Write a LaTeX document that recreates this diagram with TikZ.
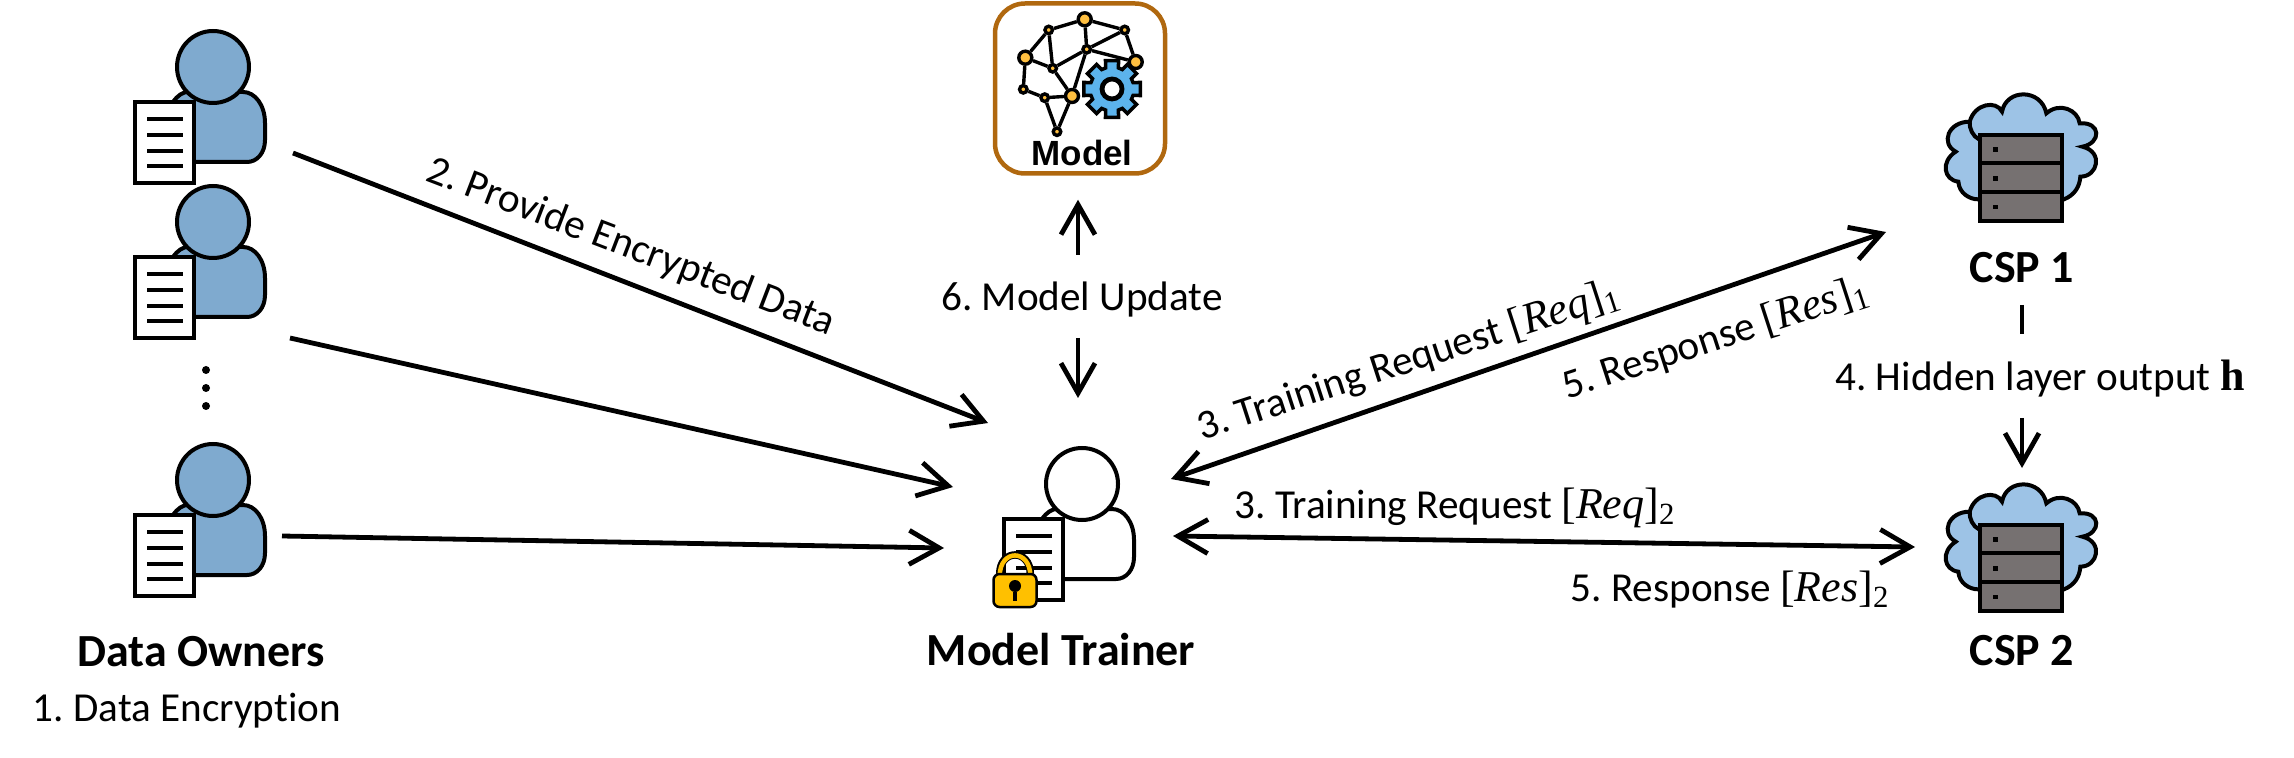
\documentclass[tikz,border=0pt]{standalone}
\usepackage[no-math]{fontspec}
\setmainfont[RawFeature={-liga}]{Carlito}
\newfontfamily\arialfont{Liberation Sans}
\newfontfamily\serifmath{Liberation Serif}
\usetikzlibrary{arrows.meta,calc,positioning}
\definecolor{ownerblue}{HTML}{7FAACF}
\definecolor{cloudblue}{HTML}{9DC3E6}
\definecolor{servergray}{HTML}{767171}
\definecolor{lockyellow}{HTML}{FFC000}
\definecolor{modelbrown}{HTML}{B0680F}
\definecolor{brainyellow}{HTML}{FFBF40}
\definecolor{gearblue}{HTML}{5CB3EC}
\newcommand{\bracketed}[2]{{\fontsize{22}{24}\selectfont\serifmath[\textit{#1}]\textsubscript{#2}}}
\frenchspacing

\tikzset{
  pics/person/.style={code={
    \draw[iconline,fill=#1] (-40,35) .. controls (-35,28) and (-30,25) .. (-25,25) -- (30,25)
      .. controls (42,25) and (52,38) .. (52,56) -- (52,73)
      .. controls (52,86) and (44,95) .. (34,95) -- (-30,95) -- cycle;
    \draw[iconline,fill=#1] (0,0) circle [radius=36];
    \draw[iconline,fill=white] (-78,35) rectangle (-19,116);
    \foreach \y in {52,68,84,99}
      \draw[docline] (-66,\y) -- (-30,\y);
  }},
  pics/server/.style={code={
    \begin{scope}[scale=0.3333,shift={(-304,-294)}]
      \draw[iconline,fill=cloudblue] (175,358) .. controls (150,358) and (118,340) .. (116,305)
        .. controls (72,300) and (62,245) .. (108,215)
        .. controls (62,190) and (85,125) .. (150,125)
        .. controls (165,70) and (230,60) .. (247,95)
        .. controls (260,25) and (365,25) .. (380,100)
        .. controls (420,65) and (475,90) .. (480,130)
        .. controls (545,125) and (545,190) .. (488,200)
        .. controls (552,215) and (535,290) .. (482,290)
        .. controls (480,320) and (465,345) .. (433,358) -- cycle;
      \draw[iconline] (150,125) .. controls (148,145) and (160,170) .. (178,178);
      \draw[iconline,fill=servergray] (181,166) rectangle (427,250);
      \draw[iconline,fill=servergray] (181,250) rectangle (427,337);
      \draw[iconline,fill=servergray] (181,337) rectangle (427,422);
      \foreach \y in {208,295,381}
        \fill (220,\y-7) rectangle (234,\y+7);
    \end{scope}
  }}
}

\begin{document}
\begin{tikzpicture}[x=0.5pt,y=-0.5pt,
    iconline/.style = {line width=2pt},
    docline/.style = {line width=2.2pt},
    iconbox/.style = {inner sep=0pt,minimum size=1pt},
    label/.style = {anchor=base,font=\fontsize{20.6}{22}\selectfont},
    title/.style = {anchor=base,font=\fontsize{23}{25}\selectfont\bfseries},
    arrow/.style = {line width=2.4pt,>={Straight Barb[length=15pt,width=17pt]}},
    dotnode/.style = {circle,fill=black,inner sep=0pt,minimum size=4pt},
    modelbox/.style = {draw=modelbrown,line width=2.25pt,fill=white,rounded corners=15pt,
      minimum width=85pt,minimum height=85pt,inner sep=0pt},
    bigdot/.style = {circle,draw,fill=brainyellow,line width=1.7pt,inner sep=0pt,minimum size=6.5pt},
    smalldot/.style = {circle,draw,fill=brainyellow,line width=1.7pt,inner sep=0pt,minimum size=3.75pt},
    brainedge/.style = {line width=1.7pt},
    gearhub/.style = {circle,draw,fill=white,line width=2.4pt,inner sep=0pt,minimum size=10pt},
    lockbody/.style = {draw,fill=lockyellow,line width=1.25pt,rounded corners=3pt,inner sep=0pt,
      minimum width=21.5pt,minimum height=16.5pt}
  ]
  \useasboundingbox (0,0) rectangle (2294,758);

  % owners
  \node [iconbox] (owner1) at (213,67) {};
  \node [iconbox,below of=owner1,node distance=77.5pt] (owner2) {};
  \node [iconbox,below of=owner1,node distance=206.5pt] (owner3) {};
  \pic at (owner1) {person=ownerblue};
  \pic at (owner2) {person=ownerblue};
  \pic at (owner3) {person=ownerblue};
  \node [dotnode] (dot1) at (206,370) {};
  \node [dotnode,below of=dot1,node distance=9pt] (dot2) {};
  \node [dotnode,below of=dot2,node distance=9pt] (dot3) {};
  \node [title] (ownername) at (201,666) {Data Owners};
  \node [label] (encrypt) at (187,721.5) {1. Data Encryption};

  % trainer
  \node [iconbox] (trainer) at (1082,484) {};
  \pic at (trainer) {person=white};
  \draw [line width=3.75pt] ($(trainer)+(-82.3,90)$) .. controls ($(trainer)+(-82.3,64.6)$) and ($(trainer)+(-51.7,64.6)$) .. ($(trainer)+(-51.7,90)$);
  \draw [line width=2.25pt,lockyellow] ($(trainer)+(-82.3,92)$) .. controls ($(trainer)+(-82.3,64.6)$) and ($(trainer)+(-51.7,64.6)$) .. ($(trainer)+(-51.7,92)$);
  \node [lockbody] (lock) at ($(trainer)+(-67,106.5)$) {};
  \node [dotnode,minimum size=6pt] (keyhole) at ($(trainer)+(-67,102)$) {};
  \draw [line width=2.25pt] (keyhole) -- ($(trainer)+(-67,117)$);
  \node [title] (trainername) at (1061,665) {Model Trainer};

  % model
  \node [modelbox] (model) at (1080,88.5) {};
  \node [smalldot] (m2) at (1048.7,30) {};
  \node [bigdot] (m1) at (1084.7,19.3) {};
  \node [smalldot] (m3) at (1124.7,30) {};
  \node [bigdot] (m4) at (1025.3,57.7) {};
  \node [smalldot] (m5) at (1086.7,49.3) {};
  \node [bigdot] (m6) at (1135.7,62) {};
  \node [smalldot] (m7) at (1052.7,68.3) {};
  \node [smalldot] (m8) at (1023.3,89.3) {};
  \node [smalldot] (m9) at (1044.7,97.7) {};
  \node [bigdot] (m10) at (1072,96) {};
  \node [smalldot] (m11) at (1057,131.7) {};
  \foreach \a/\b in {m4/m2,m2/m1,m1/m3,m3/m6,m1/m5,m3/m5,m5/m6,m2/m7,m4/m7,m7/m5,m7/m10,m5/m10,m4/m8,m8/m9,m9/m10,m9/m11,m10/m11}
    \draw [brainedge] (\a) -- (\b);
  \coordinate (gearc) at (1112,89);
  \draw [line width=1.75pt,fill=gearblue,shift={(gearc)}] (-17:22)
    \foreach \t in {0,45,...,315} { -- (\t-17:22) -- (\t-13:29) -- (\t+13:29) -- (\t+17:22) } -- cycle;
  \node [gearhub] (gear) at (gearc) {};
  \node [anchor=base,font=\fontsize{17.5}{19}\selectfont\arialfont\bfseries] (modelname) at (1082,166) {Model};

  % csps
  \node [iconbox] (csp1) at (2021,178) {};
  \node [iconbox,below of=csp1,node distance=195pt] (csp2) {};
  \pic at (csp1) {server};
  \pic at (csp2) {server};
  \node [title] (csp1name) at (2022,283) {CSP 1};
  \node [title] (csp2name) at (2022,665) {CSP 2};
  \node [label] (hidden) at (2040,391) {4. Hidden layer output {\fontsize{22}{24}\selectfont\serifmath\bfseries h}};

  % labels
  \node [label] (update) at (1082,311) {6. Model Update};
  \node [label,rotate=-21] (provide) at (627,258) {2. Provide Encrypted Data};
  \node [label,rotate=18] (reqone) at (1412,372) {3. Training Request \bracketed{Req}{1}};
  \node [label,rotate=18] (resone) at (1719,350) {5. Response \bracketed{Res}{1}};
  \node [label] (reqtwo) at (1455,518) {3. Training Request \bracketed{Req}{2}};
  \node [label] (restwo) at (1730,601) {5. Response \bracketed{Res}{2}};

  % connectors
  \draw [arrow,->] ($(owner1)+(80,86)$) -- ($(trainer)+(-94,-61)$);
  \draw [arrow,->] ($(owner2)+(77,116)$) -- ($(trainer)+(-129,3)$);
  \draw [arrow,->] ($(owner3)+(69,56)$) -- ($(trainer)+(-138,64)$);
  \draw [arrow,->] ($(update.base)+(-4,-56)$) -- ($(model.south)+(-2,24)$);
  \draw [arrow,->] ($(update.base)+(-4,27)$) -- ($(trainer)+(-4,-86)$);
  \draw [arrow,<->] ($(trainer)+(89,-5)$) -- ($(csp1)+(-135,54)$);
  \draw [arrow,<->] ($(trainer)+(91,52)$) -- ($(csp2)+(-106,-21)$);
  \draw [arrow] ($(csp1name.base)+(0,22)$) -- ($(hidden.base)+(-18,-57)$);
  \draw [arrow,->] ($(hidden.base)+(-18,27)$) -- ($(csp2)+(1,-100)$);
\end{tikzpicture}
\end{document}
